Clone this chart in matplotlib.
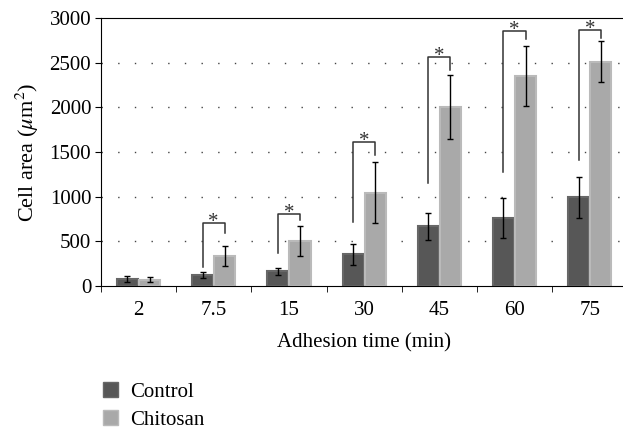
import matplotlib
matplotlib.use("Agg")
import matplotlib.pyplot as plt
import numpy as np
from matplotlib.patches import Patch

plt.rcParams['font.family'] = ['Liberation Serif', 'DejaVu Serif']
plt.rcParams['mathtext.fontset'] = 'stix'

# Dati
tempi = ["2", "7.5", "15", "30", "45", "60", "75"]
control = [75, 123, 165, 355, 670, 760, 995]
control_err = [35, 37, 37, 115, 150, 226, 230]
chitosan = [72, 340, 505, 1045, 2005, 2350, 2512]
chitosan_err = [30, 112, 164, 345, 360, 336, 234]

# parentesi di significativita (top, piede sinistro, piede destro)
brk_top = [None, 702, 803, 1609, 2561, 2848, 2867]
brk_left = [None, 216, 366, 720, 1157, 1273, 1411]
brk_right = [None, 590, 739, 1467, 2419, 2766, 2774]

fs = 15

fig = plt.figure(figsize=(6.23, 4.29), dpi=100)
ax = fig.add_axes([0.162, 0.3333, 0.845, 0.625])

x = np.arange(len(tempi))
w = 0.28
off = 0.147
ax.bar(x - off, control, w, color="#575757", edgecolor="#676767", linewidth=1.5, zorder=2)
ax.bar(x + off, chitosan, w, color="#a9a9a9", edgecolor="#bababa", linewidth=1.5, zorder=2)
ax.errorbar(x - off, control, yerr=control_err, fmt="none", ecolor="black",
            elinewidth=1, capsize=2.5, capthick=1, zorder=3)
ax.errorbar(x + off, chitosan, yerr=chitosan_err, fmt="none", ecolor="black",
            elinewidth=1, capsize=2.5, capthick=1, zorder=3)

for i in range(len(tempi)):
    if brk_top[i] is None:
        continue
    xl, xr = x[i] - off, x[i] + off
    ax.plot([xl, xl, xr, xr], [brk_left[i], brk_top[i], brk_top[i], brk_right[i]],
            color="#333333", lw=1.1, zorder=3, clip_on=False)
    ax.text(x[i], brk_top[i] - 45, "*", ha="center", va="baseline", fontsize=fs,
            color="#333333", clip_on=False)

ax.set_xlim(-0.5, len(tempi) - 0.5)
ax.set_ylim(0, 3000)
ax.set_yticks(np.arange(0, 3001, 500))
ax.set_xticks(x)
ax.set_xticklabels(tempi)
ax.set_xticks(np.arange(-0.5, len(tempi), 1), minor=True)
ax.tick_params(axis="x", which="major", length=0, pad=11, labelsize=fs)
ax.tick_params(axis="x", which="minor", length=4, direction="out")
ax.tick_params(axis="y", length=4, direction="out", pad=3, labelsize=fs)

for yv in np.arange(500, 3000, 500):
    ax.axhline(yv, color="#444444", lw=1, linestyle=(0, (1, 11)), zorder=1)

ax.spines["right"].set_visible(False)
ax.set_xlabel("Adhesion time (min)", fontsize=fs, labelpad=9)
ax.set_ylabel(r"Cell area ($\mu$m$^2$)", fontsize=fs + 1, labelpad=6)

handles = [Patch(facecolor="#575757", edgecolor="#676767", label="Control"),
           Patch(facecolor="#a9a9a9", edgecolor="#bababa", label="Chitosan")]
fig.legend(handles=handles, loc="upper left", bbox_to_anchor=(0.152, 0.128),
           frameon=False, fontsize=fs, handlelength=0.7, handleheight=0.7,
           handletextpad=0.6, labelspacing=0.38, borderaxespad=0,
           bbox_transform=fig.transFigure)

fig.savefig("out.png", dpi=100)
